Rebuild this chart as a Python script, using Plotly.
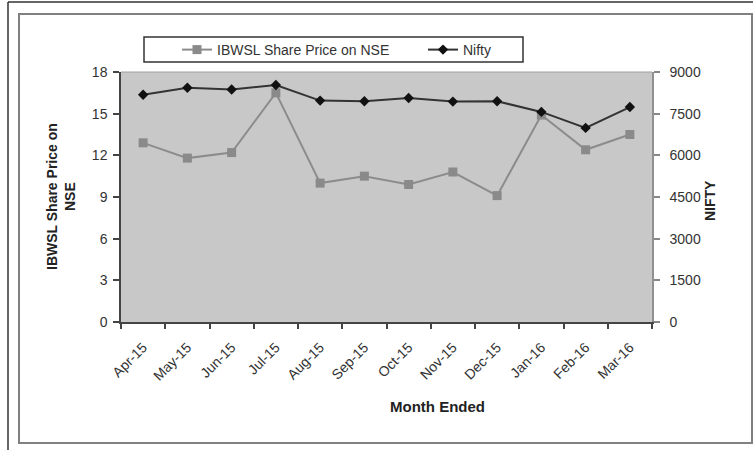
import plotly.graph_objects as go

months = ["Apr-15", "May-15", "Jun-15", "Jul-15", "Aug-15", "Sep-15",
          "Oct-15", "Nov-15", "Dec-15", "Jan-16", "Feb-16", "Mar-16"]
ibwsl = [12.9, 11.8, 12.2, 16.5, 10.0, 10.5, 9.9, 10.8, 9.1, 14.9, 12.4, 13.5]
nifty = [8181, 8434, 8368, 8533, 7971, 7948, 8065, 7935, 7946, 7563, 6987, 7738]
left_ticks = [0, 3, 6, 9, 12, 15, 18]
right_ticks = [0, 1500, 3000, 4500, 6000, 7500, 9000]

W, H = 753, 450
L, R, T, B = 121, 652, 72, 322

def px(x):
    return (x - L) / (R - L)

def py(y):
    return (B - y) / (B - T)

FONT = "Liberation Sans, Arial, sans-serif"

fig = go.Figure()
fig.add_trace(go.Scatter(
    x=months, y=ibwsl, name="IBWSL Share Price on NSE", mode="lines+markers",
    line=dict(color="#8c8c8c", width=2),
    marker=dict(symbol="square", size=9, color="#8a8a8a"),
    yaxis="y"))
fig.add_trace(go.Scatter(
    x=months, y=nifty, name="Nifty", mode="lines+markers",
    line=dict(color="#333333", width=2),
    marker=dict(symbol="diamond", size=8, color="#111111"),
    yaxis="y2"))

shapes = [
    # outer frame
    dict(type="line", xref="paper", yref="paper", x0=px(8), x1=px(760), y0=py(2), y1=py(2),
         line=dict(color="#333333", width=1.5)),
    dict(type="line", xref="paper", yref="paper", x0=px(8), x1=px(8), y0=py(2), y1=py(460),
         line=dict(color="#333333", width=1.5)),
    # inner frame
    dict(type="rect", xref="paper", yref="paper", x0=px(19), x1=px(752), y0=py(14), y1=py(443),
         line=dict(color="#808080", width=2)),
    # legend box
    dict(type="rect", xref="paper", yref="paper", x0=px(144), x1=px(523), y0=py(37), y1=py(62),
         line=dict(color="#333333", width=1.5)),
    # top edge of plot area
    dict(type="line", xref="paper", yref="paper", x0=0, x1=1, y0=1, y1=1,
         line=dict(color="#a0a0a0", width=1)),
]

annotations = [
    dict(text="<b>IBWSL Share Price on<br>NSE</b>", xref="paper", yref="paper",
         x=px(61), y=py(197), textangle=-90, showarrow=False,
         font=dict(family=FONT, size=14, color="#222222"), xanchor="center", yanchor="middle"),
    dict(text="<b>NIFTY</b>", xref="paper", yref="paper",
         x=px(710), y=py(201), textangle=-90, showarrow=False,
         font=dict(family=FONT, size=14, color="#222222"), xanchor="center", yanchor="middle"),
    dict(text="<b>Month Ended</b>", xref="paper", yref="paper",
         x=px(437), y=py(406), showarrow=False,
         font=dict(family=FONT, size=15, color="#222222"), xanchor="center", yanchor="middle"),
]

fig.update_layout(
    width=W, height=H,
    margin=dict(l=L, r=W - R, t=T, b=H - B),
    paper_bgcolor="white", plot_bgcolor="#c8c8c8",
    font=dict(family=FONT, size=14, color="#333333"),
    showlegend=True,
    legend=dict(orientation="h", x=px(177), xanchor="left", y=py(50), yanchor="middle",
                bgcolor="rgba(0,0,0,0)", borderwidth=0, entrywidth=201, entrywidthmode="pixels",
                font=dict(family=FONT, size=14, color="#333333")),
    xaxis=dict(type="category", range=[-0.5, 11.5], tickson="boundaries",
               ticks="outside", ticklen=5, tickcolor="#444444", tickwidth=1.5,
               showline=True, linecolor="#444444", linewidth=1.5, ticklabelstandoff=10,
               tickangle=-45, tickfont=dict(size=14), showgrid=False, zeroline=False),
    yaxis=dict(range=[0, 18], tickvals=left_ticks, ticks="outside", ticklen=6,
               tickcolor="#444444", tickwidth=1.5, showline=True, linecolor="#444444",
               linewidth=1.5, showgrid=False, zeroline=False, tickfont=dict(size=14),
               ticklabelstandoff=3),
    yaxis2=dict(range=[0, 9000], tickvals=right_ticks, overlaying="y", side="right",
                ticks="outside", ticklen=6, tickcolor="#888888", tickwidth=1.5,
                showline=True, linecolor="#909090", linewidth=1.5, showgrid=False,
                zeroline=False, tickfont=dict(size=14), ticklabelstandoff=7),
    shapes=shapes, annotations=annotations,
)

fig.write_html("out.html")
